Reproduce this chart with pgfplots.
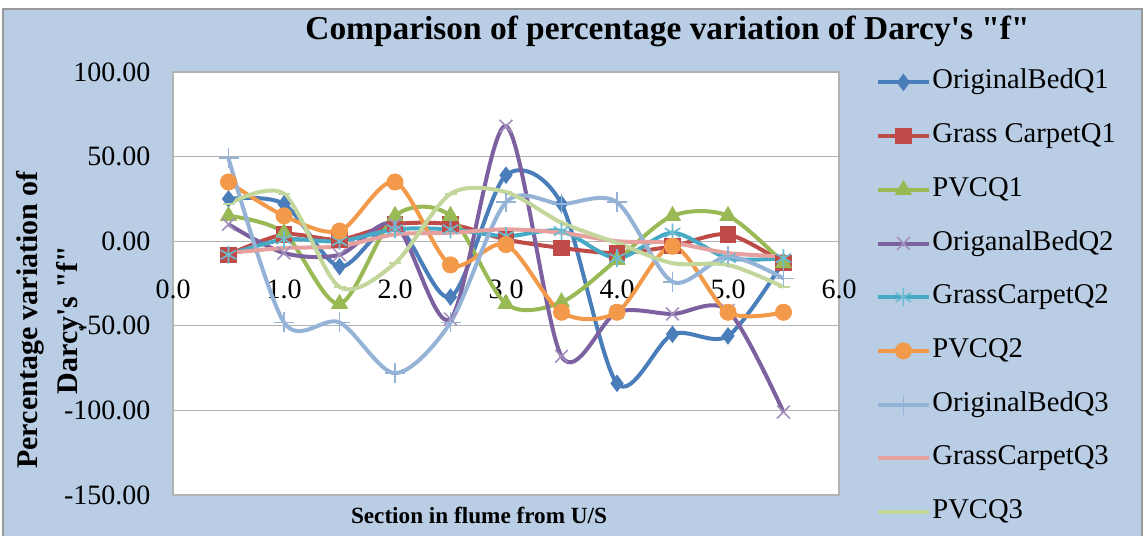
\documentclass[border=0pt]{standalone}
\usepackage{fontspec}
\setmainfont{Liberation Serif}
\usepackage{pgfplots}
\usepackage{pgfplotstable}
\pgfplotsset{compat=1.18}
\definecolor{bgblue}{HTML}{B9CDE5}
\definecolor{cob1}{HTML}{4A7EBB}
\definecolor{cgc1}{HTML}{BE4B48}
\definecolor{cpv1}{HTML}{98B954}
\definecolor{cob2}{HTML}{7D60A0}
\definecolor{cgc2}{HTML}{46AAC5}
\definecolor{cpv2}{HTML}{F39A4A}
\definecolor{cob3}{HTML}{95B3D7}
\definecolor{cgc3}{HTML}{E6A09E}
\definecolor{cpv3}{HTML}{C3D69B}
\pgfplotstableread{
x    ob1  gc1  pv1  ob2   gc2  pv2  ob3  gc3  pv3
0.5  25   -8   15   10    -8   35   49   -7   22
1.0  22   4    5    -7    1    15   -48  -4   28
1.5  -15  1    -37  -8    0    6    -48  -3   -27
2.0  10   10   15   10    7    35   -78  4    -13
2.5  -33  10   15   -46   7    -14  -48  5    28
3.0  39   1    -37  68    3    -2   23   7    29
3.5  22   -4   -36  -68   6    -42  22   5    11
4.0  -84  -7   -11  -42   -10  -42  23   0    -1
4.5  -55  -3   15   -43   5    -3   -24  -1   -13
5.0  -56  4    15   -41   -10  -42  -9   -7   -14
5.5  -12  -13  -13  -101  -10  -42  -22  -9   -27
}\datatable
\begin{document}
\begin{tikzpicture}
\useasboundingbox (0pt,0pt) rectangle (571.5pt,267.5pt);
\fill[white] (0pt,0pt) rectangle (571.5pt,267.5pt);
\filldraw[fill=bgblue, draw=gray!80, line width=0.8pt] (1.5pt,-2pt) rectangle (571pt,263pt);
\begin{axis}[
  at={(86.5pt,20pt)}, anchor=south west,
  scale only axis, width=333pt, height=211.5pt,
  xmin=0, xmax=6, ymin=-150, ymax=100,
  xtick={0,1,...,6}, ytick={-150,-100,...,100},
  major tick length=0pt,
  ymajorgrids,
  grid style={draw=gray!60, line width=0.6pt},
  axis line style={draw=gray!60, line width=0.6pt},
  axis background/.style={fill=white},
  /pgf/number format/assume math mode=true,
  tick label style={font=\fontsize{14}{16}\selectfont},
  yticklabel style={/pgf/number format/fixed, /pgf/number format/fixed zerofill, /pgf/number format/precision=2, xshift=-7.8pt},
  xticklabel style={/pgf/number format/fixed, /pgf/number format/fixed zerofill, /pgf/number format/precision=1, anchor=center, yshift=103pt},
  title={Comparison of percentage variation of Darcy\textquotesingle s \textquotedbl f\textquotedbl},
  title style={font=\bfseries\fontsize{16.7}{20}\selectfont, at={(axis description cs:0.7425,1.0473)}, anchor=base},
  xlabel={Section in flume from U/S},
  xlabel style={font=\bfseries\fontsize{11.6}{13}\selectfont, at={(axis description cs:0.4595,-0.0662)}, anchor=base},
  ylabel={Percentage variation of\\Darcy\textquotesingle s \textquotedbl f\textquotedbl},
  ylabel style={font=\bfseries\fontsize{15}{20}\selectfont, align=center, at={(axis description cs:-0.185,0.414)}, anchor=center},
  legend style={at={(axis description cs:1,1)}, anchor=north west, xshift=18.5pt, yshift=2.75pt,
    draw=none, fill=none, font=\fontsize{14.3}{16}\selectfont, row sep=11.35pt, inner sep=0pt,
    nodes={inner sep=1pt, text height=10pt, text depth=3.5pt}, /tikz/column sep=0pt, cells={anchor=west}},
  legend image code/.code={\draw[mark repeat=2,mark phase=2,#1] plot coordinates {(0pt,0pt) (12.5pt,0pt) (25pt,0pt)};},
  every axis plot/.append style={smooth, line width=2pt},
]
\addplot[color=cob1, mark=diamond*, mark size=4pt, mark options={solid, fill=cob1, line width=0.5pt}] table[x=x,y=ob1] {\datatable};
\addlegendentry{OriginalBedQ1}
\addplot[color=cgc1, mark=square*, mark size=3.8pt, mark options={solid, fill=cgc1, line width=0.5pt}] table[x=x,y=gc1] {\datatable};
\addlegendentry{Grass CarpetQ1}
\addplot[color=cpv1, mark=triangle*, mark size=4.5pt, mark options={solid, fill=cpv1, line width=0.5pt}] table[x=x,y=pv1] {\datatable};
\addlegendentry{PVCQ1}
\addplot[color=cob2, mark=x, mark size=4.5pt, mark options={solid, draw=cob2!70, line width=0.8pt}] table[x=x,y=ob2] {\datatable};
\addlegendentry{OriganalBedQ2}
\addplot[color=cgc2, mark=asterisk, mark size=4.5pt, mark options={solid, draw=cgc2!80, line width=0.8pt}] table[x=x,y=gc2] {\datatable};
\addlegendentry{GrassCarpetQ2}
\addplot[color=cpv2, mark=*, mark size=4pt, mark options={solid, fill=cpv2, line width=0.5pt}] table[x=x,y=pv2] {\datatable};
\addlegendentry{PVCQ2}
\addplot[color=cob3, mark=+, mark size=5pt, mark options={solid, draw=cob3, line width=0.8pt}] table[x=x,y=ob3] {\datatable};
\addlegendentry{OriginalBedQ3}
\addplot[color=cgc3, no markers] table[x=x,y=gc3] {\datatable};
\addlegendentry{GrassCarpetQ3}
\addplot[color=cpv3, mark=-, mark size=3pt, mark options={solid, draw=cpv3, line width=0.8pt}] table[x=x,y=pv3] {\datatable};
\addlegendentry{PVCQ3}
\end{axis}
\end{tikzpicture}
\end{document}
